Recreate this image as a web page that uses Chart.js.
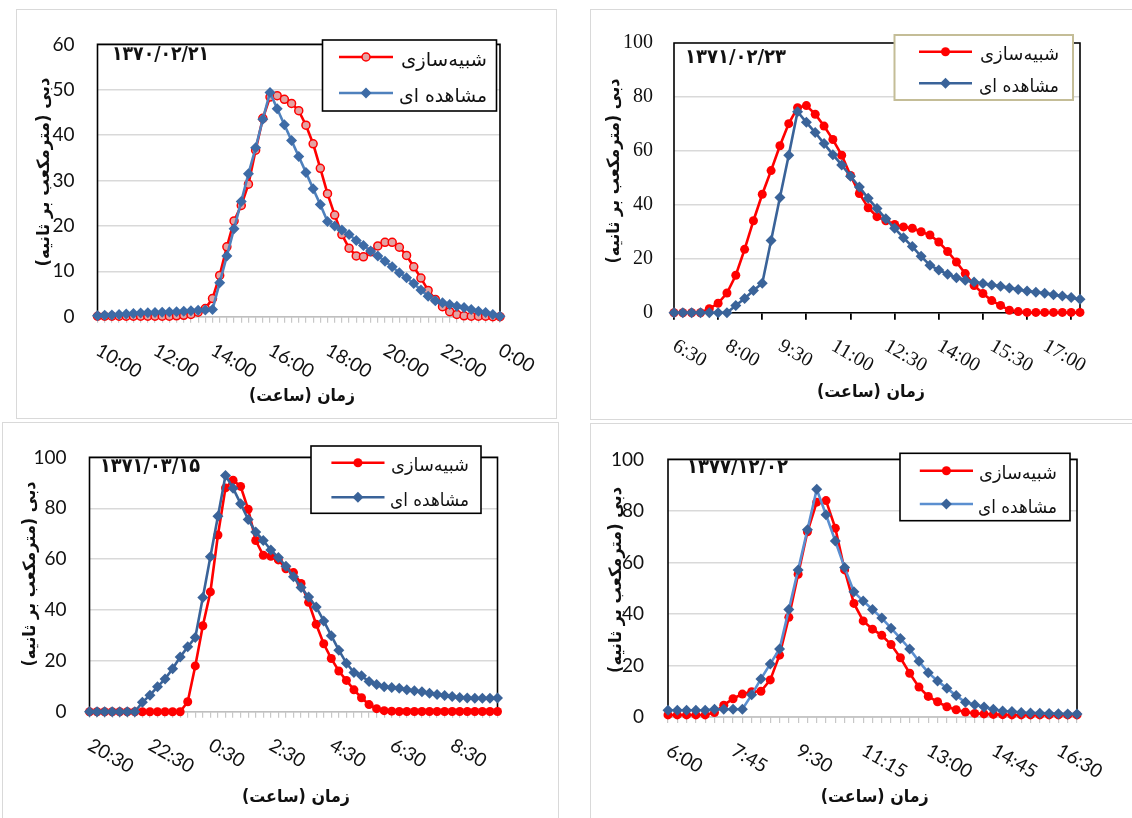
<!DOCTYPE html>
<html lang="fa">
<head>
<meta charset="utf-8">
<title>hydrographs</title>
<script src="https://cdn.jsdelivr.net/npm/chart.js@4.4.1/dist/chart.umd.min.js"></script>
<style>
  html, body { margin: 0; padding: 0; background: #fff; }
  body { width: 1132px; height: 818px; overflow: hidden; position: relative; }
  .panel { position: absolute; box-sizing: border-box; border: 1px solid #d9d9d9; background: #fff; overflow: hidden; }
  .panel canvas { display: block; }
</style>
</head>
<body>
<div class="panel" style="left:16px;top:9px;width:541px;height:410px"><canvas id="c1" width="539" height="408"></canvas></div>
<div class="panel" style="left:590px;top:9px;width:560px;height:411px"><canvas id="c2" width="558" height="409"></canvas></div>
<div class="panel" style="left:2px;top:422px;width:557px;height:410px"><canvas id="c3" width="555" height="408"></canvas></div>
<div class="panel" style="left:590px;top:423px;width:560px;height:410px"><canvas id="c4" width="558" height="408"></canvas></div>

<script>
/* four flood hydrographs: simulated vs observed discharge */

const SIM_NAME = 'شبیه‌سازی';
const OBS_NAME = 'مشاهده ای';
const Y_TITLE = 'دبی (مترمکعب بر ثانیه)';
const X_TITLE = 'زمان (ساعت)';
const ARABIC = "'DejaVu Sans', sans-serif";

// --- event 1370/02/21 (15 min steps)
const date1 = '۱۳۷۰/۰۲/۲۱';
const times1 = ['10:00','10:15','10:30','10:45','11:00','11:15','11:30','11:45','12:00','12:15','12:30','12:45',
  '13:00','13:15','13:30','13:45','14:00','14:15','14:30','14:45','15:00','15:15','15:30','15:45',
  '16:00','16:15','16:30','16:45','17:00','17:15','17:30','17:45','18:00','18:15','18:30','18:45',
  '19:00','19:15','19:30','19:45','20:00','20:15','20:30','20:45','21:00','21:15','21:30','21:45',
  '22:00','22:15','22:30','22:45','23:00','23:15','23:30','23:45','0:00'];
const sim1 = [0.1,0.1,0.1,0.1,0.1,0.1,0.1,0.1,0.1,0.1,0.1,0.2,0.3,0.5,1.0,1.8,4.0,9.1,15.4,21.1,24.5,29.2,36.7,43.7,
  48.4,48.7,47.9,47.0,45.4,42.2,38.1,32.7,27.1,22.4,18.1,15.1,13.4,13.2,14.3,15.6,16.4,16.4,15.3,13.5,
  11.0,8.5,5.8,3.8,2.2,1.1,0.5,0.2,0.1,0.1,0.1,0,0];
const obs1 = [0.2,0.3,0.4,0.5,0.6,0.7,0.8,0.85,0.9,1.0,1.05,1.1,1.2,1.3,1.4,1.5,1.6,7.5,13.4,19.4,25.4,31.5,37.2,43.5,
  49.4,45.8,42.3,38.8,35.3,31.8,28.2,24.7,21.0,20.0,19.1,18.1,16.8,15.7,14.5,13.4,12.2,11.0,9.7,8.6,
  7.3,5.9,4.5,3.5,3.1,2.7,2.3,2.0,1.6,1.2,0.9,0.5,0.1];

// --- event 1371/02/23
const date2 = '۱۳۷۱/۰۲/۲۳';
const times2 = ['6:30','6:45','7:00','7:15','7:30','7:45','8:00','8:15','8:30','8:45','9:00','9:15','9:30','9:45',
  '10:00','10:15','10:30','10:45','11:00','11:15','11:30','11:45','12:00','12:15','12:30','12:45',
  '13:00','13:15','13:30','13:45','14:00','14:15','14:30','14:45','15:00','15:15','15:30','15:45',
  '16:00','16:15','16:30','16:45','17:00','17:15','17:30','17:45','18:00'];
const sim2 = [0,0,0,0,1.5,3.5,7.3,13.9,23.5,34.1,43.9,52.7,61.9,70.1,76.0,76.8,73.6,69.2,64.2,58.4,50.9,
  44.2,38.9,35.6,34.1,32.7,31.8,31.3,30.0,28.8,26.2,22.7,18.8,14.5,10.1,7.1,4.5,2.7,0.9,0.4,
  0.1,0.1,0.1,0.1,0.1,0.1,0.1];
const obs2 = [0,0,0,0,0,0,0,2.7,5.3,8.2,10.9,26.8,42.7,58.4,74.5,70.6,66.8,62.7,58.6,54.8,50.6,
  46.6,42.4,38.6,34.8,31.3,27.8,24.5,20.9,17.6,15.8,14.3,13.0,12.0,11.4,10.8,10.3,9.8,9.2,8.6,
  8.0,7.6,7.2,6.7,6.2,5.6,5.0];

// --- event 1371/03/15
const date3 = '۱۳۷۱/۰۳/۱۵';
const times3 = ['20:30','20:45','21:00','21:15','21:30','21:45','22:00','22:15','22:30','22:45','23:00','23:15',
  '23:30','23:45','0:00','0:15','0:30','0:45','1:00','1:15','1:30','1:45','2:00','2:15','2:30','2:45',
  '3:00','3:15','3:30','3:45','4:00','4:15','4:30','4:45','5:00','5:15','5:30','5:45','6:00','6:15',
  '6:30','6:45','7:00','7:15','7:30','7:45','8:00','8:15','8:30','8:45','9:00','9:15','9:30','9:45','10:00'];
const sim3 = [0,0,0,0,0,0,0,0,0,0,0,0,0,3.9,18.0,33.8,47.1,69.5,88.0,91.0,88.6,79.6,67.3,61.5,
  61.1,59.7,56.2,54.7,50.4,43.0,34.4,26.7,20.9,16.0,12.3,8.6,5.5,2.8,1.2,0.4,0.2,
  0.1,0.1,0.1,0.1,0.1,0.1,0.1,0.1,0.1,0.1,0.1,0.1,0.1,0.1];
const obs3 = [0,0,0,0,0,0,0,3.7,6.5,9.8,12.9,16.9,21.5,25.5,29.2,44.9,60.9,76.9,92.9,87.9,81.8,
  75.6,70.7,67.3,63.6,60.6,57.2,53.1,48.8,45.1,41.2,35.7,29.9,24.2,19.1,15.4,14.1,11.9,10.7,9.8,9.5,
  9.2,8.6,8.2,7.8,7.3,6.8,6.4,6.0,5.6,5.4,5.3,5.3,5.3,5.4];

// --- event 1377/12/02
const date4 = '۱۳۷۷/۱۲/۰۲';
const times4 = ['6:00','6:15','6:30','6:45','7:00','7:15','7:30','7:45','8:00','8:15','8:30','8:45',
  '9:00','9:15','9:30','9:45','10:00','10:15','10:30','10:45','11:00','11:15','11:30','11:45',
  '12:00','12:15','12:30','12:45','13:00','13:15','13:30','13:45','14:00','14:15','14:30','14:45',
  '15:00','15:15','15:30','15:45','16:00','16:15','16:30','16:45','17:00'];
const sim4 = [0.8,0.8,0.8,0.8,0.8,1.7,4.6,7.1,8.9,9.8,10.0,14.4,24.0,38.7,55.4,71.9,83.4,84.0,73.3,57.1,44.1,
  37.3,34.1,31.7,28.1,23.0,17.0,11.6,8.0,5.9,4.0,2.8,1.9,1.4,1.2,1.0,0.9,0.8,0.8,0.8,0.8,0.8,0.8,0.8,0.8];
const obs4 = [2.6,2.6,2.6,2.6,2.6,3.0,3.0,3.0,3.0,8.6,14.8,20.6,26.4,41.7,57.1,72.7,88.4,78.5,68.3,58.0,48.6,
  45.0,41.7,38.4,34.5,30.5,26.4,21.6,17.2,14.0,11.2,8.3,5.7,4.8,3.9,3.0,2.3,2.1,1.7,1.6,1.5,1.4,1.3,1.2,1.2];

// text squeezed/stretched horizontally to a target width, keeping its height
function drawText(ctx, text, x, y, t) {
  ctx.save();
  ctx.font = `${t.weight || 'normal'} ${t.size}px ${ARABIC}`;
  ctx.direction = t.dir || 'rtl';
  ctx.textAlign = t.align || 'center';
  ctx.textBaseline = t.base || 'middle';
  const sx = t.w ? t.w / ctx.measureText(text).width : 1;
  ctx.translate(x, y);
  if (t.rot) ctx.rotate(t.rot);
  ctx.scale(sx, 1);
  ctx.fillText(text, 0, 0);
  ctx.restore();
}

function marker(ctx, shape, x, y, r, fill, stroke, bw) {
  ctx.beginPath();
  if (shape === 'circle') ctx.arc(x, y, r, 0, Math.PI * 2);
  else { ctx.moveTo(x, y - r); ctx.lineTo(x + r, y); ctx.lineTo(x, y + r); ctx.lineTo(x - r, y); ctx.closePath(); }
  ctx.fillStyle = fill; ctx.fill();
  if (bw) { ctx.lineWidth = bw; ctx.strokeStyle = stroke; ctx.stroke(); }
}

const deco = {
  id: 'deco',
  beforeDatasetsDraw(chart, args, o) {
    const ctx = chart.ctx, a = chart.chartArea;
    ctx.save();
    ctx.strokeStyle = '#000'; ctx.lineWidth = 1.6;
    ctx.beginPath();
    ctx.moveTo(a.left, a.bottom); ctx.lineTo(a.left, a.top); ctx.lineTo(a.right, a.top); ctx.lineTo(a.right, a.bottom);
    ctx.stroke();
    ctx.strokeStyle = o.axisColor; ctx.lineWidth = o.axisWidth;
    ctx.beginPath(); ctx.moveTo(a.left - 0.8, a.bottom); ctx.lineTo(a.right + 0.8, a.bottom); ctx.stroke();
    ctx.restore();
  },
  afterDraw(chart, args, o) {
    const ctx = chart.ctx, a = chart.chartArea, xs = chart.scales.x;
    ctx.save();
    ctx.fillStyle = '#111';

    // rotated time labels
    ctx.font = o.xFont; ctx.textAlign = 'left'; ctx.textBaseline = 'middle'; ctx.direction = 'ltr';
    o.times.forEach((t, i) => {
      if (i % o.labelEvery) return;
      ctx.save();
      ctx.translate(xs.getPixelForValue(i), a.bottom + 32);
      ctx.rotate(Math.PI / 6);
      ctx.fillText(t, 0, 0);
      ctx.restore();
    });

    // axis titles and event date
    drawText(ctx, Y_TITLE, o.yTitle.x, o.yTitle.y, { size: 17, weight: 'bold', w: o.yTitle.w, rot: -Math.PI / 2 });
    drawText(ctx, X_TITLE, o.xTitle.x, o.xTitle.y, { size: 17, weight: 'bold', w: o.xTitle.w });
    drawText(ctx, o.date.text, o.date.x, o.date.y, { size: 20, weight: 'bold', w: o.date.w, dir: 'ltr', align: 'left', base: 'alphabetic' });

    // legend box
    const L = o.legend;
    ctx.fillStyle = '#fff'; ctx.fillRect(L.x, L.y, L.w, L.h);
    ctx.strokeStyle = L.border; ctx.lineWidth = L.bw; ctx.strokeRect(L.x, L.y, L.w, L.h);
    [[o.sim, SIM_NAME, L.r1, L.tw1], [o.obs, OBS_NAME, L.r2, L.tw2]].forEach(([st, name, y, tw]) => {
      ctx.strokeStyle = st.line; ctx.lineWidth = 2.6;
      ctx.beginPath(); ctx.moveTo(L.l1, y); ctx.lineTo(L.l2, y); ctx.stroke();
      marker(ctx, st.shape, (L.l1 + L.l2) / 2, y, st.r, st.fill, st.border, st.bw);
      ctx.fillStyle = '#111';
      drawText(ctx, name, L.tr, y + 4, { size: L.size, w: tw, align: 'right' });
    });
    ctx.restore();
  }
};

function makeChart(id, times, sim, obs, cfg) {
  const cv = document.getElementById(id);
  const W = cv.width, H = cv.height, p = cfg.plot;
  const ds = (label, data, st) => ({
    label, data,
    borderColor: st.line, backgroundColor: st.fill, borderWidth: 2.6,
    pointStyle: st.shape === 'circle' ? 'circle' : 'rectRot',
    pointRadius: st.r, pointBackgroundColor: st.fill, pointBorderColor: st.border, pointBorderWidth: st.bw,
    tension: 0, clip: false
  });
  return new Chart(cv, {
    type: 'line',
    data: { labels: times, datasets: [ds(OBS_NAME, obs, cfg.obs), ds(SIM_NAME, sim, cfg.sim)] },
    options: {
      responsive: false, animation: false, events: [],
      layout: { padding: { left: 0, top: p.t, right: W - p.r, bottom: 0 } },
      scales: {
        x: {
          type: 'category', offset: false,
          ticks: { display: false, autoSkip: false },
          grid: {
            drawOnChartArea: false, drawTicks: true, tickLength: cfg.tickLen,
            color: c => (c.index % cfg.tickEvery === 0 ? cfg.tickColor : 'rgba(0,0,0,0)'),
            lineWidth: cfg.tickWidth
          },
          border: { display: false },
          afterFit: sc => { sc.height = H - p.b; }
        },
        y: {
          min: 0, max: cfg.yMax,
          ticks: { stepSize: cfg.yStep, color: '#111', padding: cfg.yPad, font: cfg.yFont },
          grid: { color: '#d9d9d9', lineWidth: 1.5, drawTicks: false },
          border: { display: false },
          afterFit: sc => { sc.width = p.l; }
        }
      },
      plugins: {
        legend: { display: false }, tooltip: { enabled: false },
        deco: Object.assign({ times }, cfg)
      }
    },
    plugins: [deco]
  });
}

const redPink = { line: '#ff0000', fill: '#e3a3a3', border: '#ff0000', shape: 'circle', r: 4, bw: 1.5 };
const redDot = { line: '#ff0000', fill: '#ff0000', border: '#ff0000', shape: 'circle', r: 4.5, bw: 0 };
const blueDark = { line: '#3a6399', fill: '#3a6399', border: '#3a6399', shape: 'diamond', r: 5.5, bw: 0 };
const blueLight = { line: '#4f81bd', fill: '#3d6ba6', border: '#3d6ba6', shape: 'diamond', r: 5.5, bw: 0 };
const blueSky = { line: '#5b8fd0', fill: '#3a6399', border: '#3a6399', shape: 'diamond', r: 5.5, bw: 0 };
const sansTick = { family: 'Lato', size: 19 };
const serifTick = { family: "'Liberation Serif', serif", size: 20 };

makeChart('c1', times1, sim1, obs1, {
  plot: { l: 80.5, t: 19.3, r: 483, b: 306.7 }, yMax: 60, yStep: 10, yPad: 23, yFont: sansTick,
  xFont: '19px Lato', labelEvery: 8, tickEvery: 1, tickLen: 6, tickColor: '#c8c8c8', tickWidth: 1.2,
  axisColor: '#bfbfbf', axisWidth: 1.5,
  sim: redPink, obs: blueLight,
  yTitle: { x: 28, y: 162, w: 189 }, xTitle: { x: 285, y: 387, w: 106 },
  date: { text: date1, x: 95, y: 50, w: 97 },
  legend: { x: 305.5, y: 30, w: 174, h: 71, border: '#000', bw: 1.6, l1: 322, l2: 376, r1: 47, r2: 83,
    tr: 470, size: 19, tw1: 86, tw2: 88 }
});

makeChart('c2', times2, sim2, obs2, {
  plot: { l: 83, t: 19.3, r: 489, b: 302.7 }, yMax: 100, yStep: 20, yPad: 21, yFont: serifTick,
  xFont: "20px 'Liberation Serif', serif", labelEvery: 6, tickEvery: 5, tickLen: 7, tickColor: '#000', tickWidth: 1.8,
  axisColor: '#000', axisWidth: 1.6,
  sim: redDot, obs: blueDark,
  yTitle: { x: 23.7, y: 161, w: 185 }, xTitle: { x: 280, y: 383, w: 108 },
  date: { text: date2, x: 94, y: 53, w: 101 },
  legend: { x: 303.5, y: 25, w: 178.5, h: 65, border: '#c4bd97', bw: 2, l1: 328, l2: 381, r1: 41.7, r2: 73.3,
    tr: 468, size: 18, tw1: 79, tw2: 80 }
});

makeChart('c3', times3, sim3, obs3, {
  plot: { l: 86.5, t: 17.7, r: 494.5, b: 288.7 }, yMax: 100, yStep: 20, yPad: 23, yFont: sansTick,
  xFont: '19px Lato', labelEvery: 8, tickEvery: 1, tickLen: 6, tickColor: '#c8c8c8', tickWidth: 1.2,
  axisColor: '#bfbfbf', axisWidth: 1.5,
  sim: redDot, obs: blueDark,
  yTitle: { x: 27.7, y: 151, w: 185 }, xTitle: { x: 293, y: 375, w: 108 },
  date: { text: date3, x: 97, y: 49, w: 100 },
  legend: { x: 308, y: 23, w: 170, h: 67.3, border: '#000', bw: 1.6, l1: 328.4, l2: 381.5, r1: 39.7, r2: 74.3,
    tr: 466, size: 18, tw1: 78, tw2: 79 }
});

makeChart('c4', times4, sim4, obs4, {
  plot: { l: 77, t: 16.7, r: 486, b: 293 }, yMax: 100, yStep: 20, yPad: 24, yFont: sansTick,
  xFont: '19px Lato', labelEvery: 7, tickEvery: 1, tickLen: 6, tickColor: '#c8c8c8', tickWidth: 1.2,
  axisColor: '#bfbfbf', axisWidth: 1.5,
  sim: redDot, obs: blueSky,
  yTitle: { x: 25.5, y: 156, w: 186 }, xTitle: { x: 283.7, y: 374, w: 108 },
  date: { text: date4, x: 96, y: 49, w: 101 },
  legend: { x: 309, y: 29.3, w: 170, h: 67.4, border: '#000', bw: 1.6, l1: 328.8, l2: 382, r1: 46.7, r2: 80,
    tr: 466, size: 18, tw1: 78, tw2: 79 }
});
</script>
</body>
</html>
